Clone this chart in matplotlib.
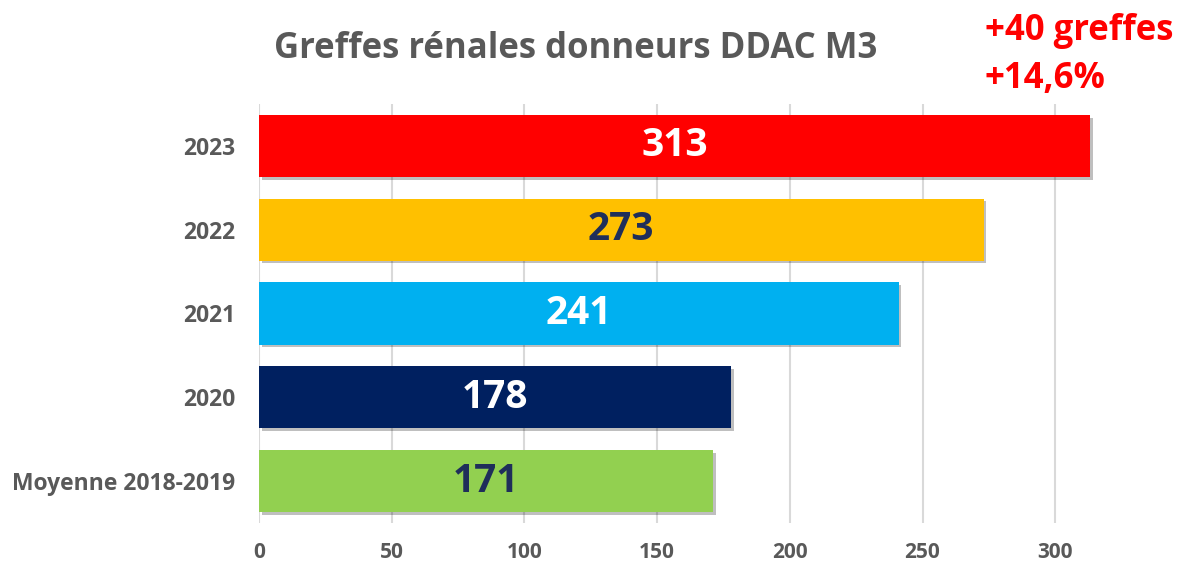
import matplotlib
matplotlib.use("Agg")
import matplotlib.pyplot as plt
import matplotlib.patheffects as pe

categories = ["Moyenne 2018-2019", "2020", "2021", "2022", "2023"]
values = [171, 178, 241, 273, 313]
bar_colors = ["#92D050", "#002060", "#00B0F0", "#FFC000", "#FF0000"]
label_colors = ["#1F2E5A", "#FFFFFF", "#FFFFFF", "#1F2E5A", "#FFFFFF"]
x_ticks = [0, 50, 100, 150, 200, 250, 300]
title = "Greffes rénales donneurs DDAC M3"
note_lines = ["+40 greffes", "+14,6%"]

plt.rcParams['font.family'] = ['Open Sans', 'DejaVu Sans']

W, H = 1180, 562
fig = plt.figure(figsize=(W / 100, H / 100), dpi=100)
left, right = 259 / W, 1180 / W
bottom, top = 1 - 523 / H, 1 - 104 / H
ax = fig.add_axes([left, bottom, right - left, top - bottom])

gray = "#595959"
ypos = list(range(len(categories)))
bars = ax.barh(ypos, values, height=0.74, color=bar_colors, zorder=3)
for b in bars:
    b.set_path_effects([pe.SimplePatchShadow(offset=(2, -2), shadow_rgbFace="#000000", alpha=0.25),
                        pe.Normal()])

for y, v, c in zip(ypos, values, label_colors):
    ax.text(v / 2, y, str(v), ha="center", va="center", color=c,
            fontsize=28, fontweight="bold", zorder=4)

ax.set_xlim(0, 347)
ax.set_ylim(-0.5, len(categories) - 0.5)
ax.set_xticks(x_ticks)
ax.set_xticklabels([str(t) for t in x_ticks])
ax.set_yticks(ypos)
ax.set_yticklabels(categories)
ax.grid(axis="x", color="#D9D9D9", linewidth=1.5, zorder=0)
ax.set_axisbelow(True)
for s in ax.spines.values():
    s.set_visible(False)
ax.tick_params(axis="both", length=0, colors=gray)
ax.tick_params(axis="x", pad=14, labelsize=15)
ax.tick_params(axis="y", pad=17, labelsize=16.5)
for lab in ax.get_xticklabels() + ax.get_yticklabels():
    lab.set_fontweight("bold")
    lab.set_color(gray)

fig.text(576 / W, 1 - 49 / H, title, ha="center", va="center", fontsize=25,
         fontweight="bold", color=gray)
fig.text(985 / W, 1 - 31 / H, note_lines[0], ha="left", va="center", fontsize=25,
         fontweight="bold", color="#FF0000")
fig.text(985 / W, 1 - 79 / H, note_lines[1], ha="left", va="center", fontsize=25,
         fontweight="bold", color="#FF0000")

fig.savefig("out.png", dpi=100)
